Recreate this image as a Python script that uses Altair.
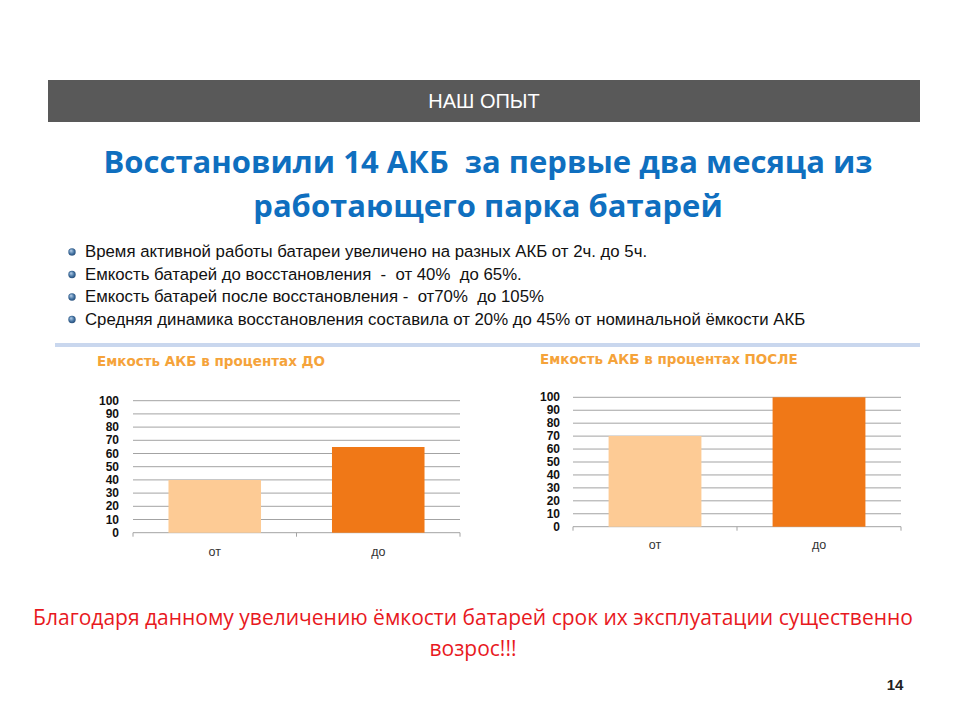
import altair as alt
import pandas as pd

# ---------------- data ----------------
categories = ["от", "до"]
values_before = [40, 65]
values_after = [70, 100]
y_ticks = [0, 10, 20, 30, 40, 50, 60, 70, 80, 90, 100]
bar_colors = ["#FDCB95", "#F07817"]

header_text = "НАШ ОПЫТ"
title_lines = ["Восстановили 14 АКБ \u00a0за первые два месяца из",
               "работающего парка батарей"]
bullet_lines = [
    "Время активной работы батареи увеличено на разных АКБ от 2ч. до 5ч.",
    "Емкость батарей до восстановления \u00a0- \u00a0от 40% \u00a0до 65%.",
    "Емкость батарей после восстановления - \u00a0от70% \u00a0до 105%",
    "Средняя динамика восстановления составила от 20% до 45% от номинальной ёмкости АКБ",
]
chart_titles = ["Емкость АКБ в процентах ДО", "Емкость АКБ в процентах ПОСЛЕ"]
footer_lines = ["Благодаря данному увеличению ёмкости батарей срок их эксплуатации существенно",
                "возрос!!!"]
page_number = "14"

ONE = pd.DataFrame({"a": [0]})
NARROW = "Liberation Sans Narrow, Arial Narrow, Liberation Sans, sans-serif"
CAL = "Open Sans, Noto Sans, sans-serif"
ARIAL = "Liberation Sans, Arial, sans-serif"
VERD = "DejaVu Sans, Verdana, sans-serif"


def text_at(text, x, y, size, color, weight="normal", font=CAL, align="center"):
    return alt.Chart(ONE).mark_text(
        text=text, fontSize=size, color=color, fontWeight=weight, font=font,
        align=align, baseline="middle"
    ).encode(x=alt.value(x), y=alt.value(y))


def rect_at(x, x2, y, y2, color):
    return alt.Chart(ONE).mark_rect(color=color).encode(
        x=alt.value(x), x2=alt.value(x2), y=alt.value(y), y2=alt.value(y2))


def panel(vals, title, x0, x1, y0, y100, title_x, title_y, label_x, xlab_y):
    bars_df = pd.DataFrame({"cat": categories, "val": vals, "color": bar_colors})
    ticks_df = pd.DataFrame({"t": y_ticks})
    ys = alt.Scale(domain=[0, 100], range=[y0, y100], nice=False, zero=True)
    xs = alt.Scale(domain=categories, range=[x0, x1], paddingInner=0, paddingOuter=0)

    grid = alt.Chart(ticks_df).mark_rule(color="#A3A3A3", strokeWidth=1).encode(
        y=alt.Y("t:Q", scale=ys, axis=None), x=alt.value(x0), x2=alt.value(x1))
    ylabels = alt.Chart(ticks_df).mark_text(
        align="right", baseline="middle", font=ARIAL, fontWeight="bold",
        fontSize=12, color="#111111"
    ).encode(y=alt.Y("t:Q", scale=ys, axis=None), x=alt.value(label_x), text="t:Q")
    bars = alt.Chart(bars_df).mark_bar(width=alt.RelativeBandSize(0.566)).encode(
        x=alt.X("cat:N", scale=xs, axis=None, sort=categories),
        y=alt.Y("val:Q", scale=ys, axis=None),
        color=alt.Color("color:N", scale=None),
    )
    xlabels = alt.Chart(bars_df).mark_text(
        font=ARIAL, fontSize=12.5, color="#333333", baseline="middle"
    ).encode(x=alt.X("cat:N", scale=xs, axis=None, sort=categories),
             y=alt.value(xlab_y), text="cat:N")
    mid = (x0 + x1) / 2
    ticks = [alt.Chart(ONE).mark_rule(color="#A3A3A3").encode(
        x=alt.value(xx), y=alt.value(y0), y2=alt.value(y0 + 4)) for xx in (x0, mid, x1)]
    ttl = text_at(title, title_x, title_y, 13.5, "#F5A33A", "bold", VERD, "left")
    return [grid, bars, ylabels, xlabels, ttl] + ticks


layers = []
# header bar
layers.append(rect_at(48, 920, 80, 122, "#595959"))
layers.append(text_at(header_text, 484, 102, 20, "#FFFFFF", "normal", NARROW))
# main title
layers.append(text_at(title_lines[0], 488, 164, 31, "#0F6FBF", "bold"))
layers.append(text_at(title_lines[1], 488, 208, 31, "#0F6FBF", "bold"))

# bullets
bul_y = [252, 274.5, 297, 319.5]
grad = alt.RadialGradient(
    gradient="radial",
    stops=[alt.GradientStop(color="#BFD6EE", offset=0),
           alt.GradientStop(color="#3F6F9F", offset=0.6),
           alt.GradientStop(color="#1F3F66", offset=1)],
    x1=0.35, y1=0.3, r1=0, x2=0.5, y2=0.5, r2=0.6,
)
for line, yy in zip(bullet_lines, bul_y):
    layers.append(alt.Chart(ONE).mark_point(shape="circle", filled=True, size=55,
                                            fill=grad, opacity=1, strokeWidth=0)
                  .encode(x=alt.value(72), y=alt.value(yy)))
    layers.append(text_at(line, 85, yy, 16.8, "#111111", "normal", NARROW, "left"))

# separator
layers.append(rect_at(55, 920, 343, 347, "#C9D7EE"))

# panels
layers += panel(values_before, chart_titles[0], 133, 460, 532.7, 400.7, 97, 362, 119, 552)
layers += panel(values_after, chart_titles[1], 573, 901, 526.7, 397.3, 540, 360, 560, 545)

# footer
layers.append(text_at(footer_lines[0], 473, 619, 21, "#E8191E"))
layers.append(text_at(footer_lines[1], 473, 650, 21, "#E8191E"))
layers.append(text_at(page_number, 895, 685, 15, "#222222", "bold", ARIAL))

chart = alt.layer(*layers).resolve_scale(
    x="independent", y="independent", color="independent"
).properties(
    width=960, height=720, autosize=alt.AutoSizeParams(type="none"), padding=0,
    background="#FFFFFF"
).configure_view(stroke=None)

chart.save("out.html", embed_options={"renderer": "svg", "actions": False})
